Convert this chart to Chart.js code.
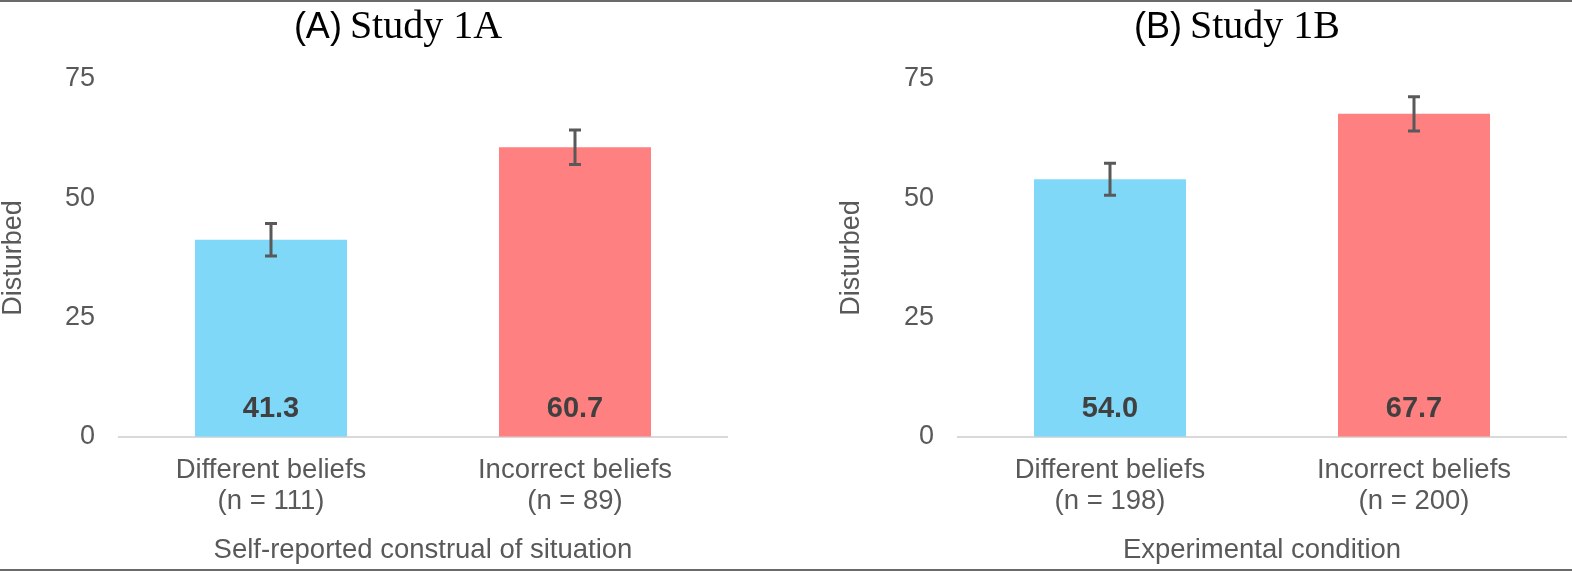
<!DOCTYPE html>
<html><head><meta charset="utf-8">
<script src="https://cdn.jsdelivr.net/npm/chart.js@4"></script>
<style>
html,body{margin:0;padding:0;background:#fff;}
#wrap{position:relative;width:1572px;height:572px;overflow:hidden;background:#fff;}
.frame{position:absolute;left:0;width:1572px;height:2px;background:#6a6a6a;}
canvas{position:absolute;top:0;}
.title{position:absolute;top:0;height:50px;line-height:50px;white-space:nowrap;transform:translateX(-50%);color:#000;}
.title .s{font-family:"Liberation Sans",Arial,sans-serif;font-size:36px;}
.title .r{font-family:"Liberation Serif","Times New Roman",serif;font-size:40px;margin-left:4px;}
</style></head>
<body>
<div id="wrap">
  <canvas id="cA" width="786" height="572" style="left:0px"></canvas>
  <canvas id="cB" width="786" height="572" style="left:786px"></canvas>
  <div class="title" style="left:398px"><span class="s">(A)</span> <span class="r">Study 1A</span></div>
  <div class="title" style="left:1237px"><span class="s">(B)</span> <span class="r">Study 1B</span></div>
  <div class="frame" style="top:0"></div>
  <div class="frame" style="top:569px"></div>
</div>
<script>
const categoriesA = [["Different beliefs","(n = 111)"],["Incorrect beliefs","(n = 89)"]];
const valuesA = [41.3, 60.7];
const errorsA = [3.4, 3.6];
const xTitleA = "Self-reported construal of situation";

const categoriesB = [["Different beliefs","(n = 198)"],["Incorrect beliefs","(n = 200)"]];
const valuesB = [54.0, 67.7];
const errorsB = [3.35, 3.6];
const xTitleB = "Experimental condition";

const yTicks = [0, 25, 50, 75];
const yTitle = "Disturbed";
const barColors = ["#80d8f8", "#ff8080"];

const FONT = '"Liberation Sans", Arial, sans-serif';
const GREY = '#595959';

function errorBarPlugin(errors){
  return {
    id:'errbars',
    afterDatasetsDraw(chart){
      const ctx = chart.ctx, meta = chart.getDatasetMeta(0), y = chart.scales.y;
      const vals = chart.data.datasets[0].data;
      ctx.save();
      ctx.strokeStyle = GREY; ctx.lineWidth = 3; ctx.lineCap = 'butt';
      meta.data.forEach((bar, i) => {
        const x = bar.x;
        const top = y.getPixelForValue(vals[i] + errors[i]);
        const bot = y.getPixelForValue(vals[i] - errors[i]);
        ctx.beginPath();
        ctx.moveTo(x, top); ctx.lineTo(x, bot);
        ctx.moveTo(x - 6, top); ctx.lineTo(x + 6, top);
        ctx.moveTo(x - 6, bot); ctx.lineTo(x + 6, bot);
        ctx.stroke();
      });
      ctx.restore();
    }
  };
}
const dataLabelPlugin = {
  id:'dlabels',
  afterDatasetsDraw(chart){
    const ctx = chart.ctx, meta = chart.getDatasetMeta(0), y = chart.scales.y;
    const vals = chart.data.datasets[0].data;
    ctx.save();
    ctx.font = 'bold 29px ' + FONT;
    ctx.fillStyle = '#404040';
    ctx.textAlign = 'center'; ctx.textBaseline = 'middle';
    meta.data.forEach((bar, i) => {
      ctx.fillText(vals[i].toFixed(1), bar.x, y.getPixelForValue(0) - 28);
    });
    ctx.restore();
  }
};

function makeChart(id, cats, vals, errs, xTitle, padL, padR, yWidth){
  return new Chart(document.getElementById(id), {
    type:'bar',
    data:{ labels: cats, datasets:[{ data: vals, backgroundColor: barColors, borderWidth:0,
      categoryPercentage:1.0, barPercentage:0.5 }]},
    options:{
      responsive:false, animation:false, devicePixelRatio:1,
      layout:{ padding:{ left:padL, right:padR, top:79, bottom:6 } },
      plugins:{ legend:{display:false}, tooltip:{enabled:false} },
      scales:{
        x:{
          grid:{display:false, drawTicks:false},
          border:{display:true, color:'#d9d9d9', width:2},
          ticks:{ font:{family:FONT, size:27.5, lineHeight:1.13}, color:GREY, padding:18, maxRotation:0, autoSkip:false },
          title:{ display:true, text:xTitle, font:{family:FONT, size:27.5, lineHeight:1.13}, color:GREY, padding:{top:0, bottom:0} }
        },
        y:{
          min:0, max:75,
          grid:{display:false, drawTicks:false},
          border:{display:false},
          ticks:{ stepSize:25, font:{family:FONT, size:27}, color:GREY, padding:24 },
          afterBuildTicks(s){ s.ticks = yTicks.map(v => ({value:v})); },
          title:{ display:true, text:yTitle, font:{family:FONT, size:27, lineHeight:1}, color:GREY, padding:{top:0, bottom:0} },
          afterFit(s){ s.width = yWidth; }
        }
      }
    },
    plugins:[errorBarPlugin(errs), dataLabelPlugin]
  });
}
makeChart('cA', categoriesA, valuesA, errorsA, xTitleA, 0, 59, 119);
makeChart('cB', categoriesB, valuesB, errorsB, xTitleB, 52, 6, 120);
</script>
</body></html>
